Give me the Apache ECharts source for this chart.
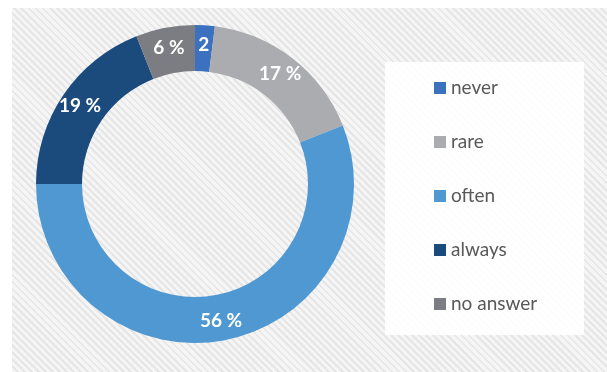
<!DOCTYPE html>
<html>
<head>
<meta charset="utf-8">
<script src="https://cdn.jsdelivr.net/npm/echarts@6/dist/echarts.min.js"></script>
<style>
  html, body { margin: 0; padding: 0; background: #fff; }
  .bg {
    position: absolute; left: 12px; top: 8px; width: 595px; height: 364px;
    background: repeating-linear-gradient(45deg, #f5f5f5 0px, #f5f5f5 3px, #e6e6e6 3px, #e6e6e6 5px);
  }
  #chart { position: absolute; left: 0; top: 0; width: 607px; height: 372px; }
</style>
</head>
<body>
<div class="bg"></div>
<div id="chart"></div>
<script>
  // answer categories and shares (%)
  const categories = ['never', 'rare', 'often', 'always', 'no answer'];
  const shares = [2, 17, 56, 19, 6];
  const labels = ['2', '17 %', '56 %', '19 %', '6 %'];
  const colors = ['#3c71c0', '#abacb0', '#4f98d2', '#1b4b7d', '#7c7d82'];

  const chart = echarts.init(document.getElementById('chart'));

  const option = {
    backgroundColor: 'transparent',
    animation: false,
    graphic: [{
      type: 'rect',
      shape: { x: 385, y: 62, width: 199, height: 273 },
      style: { fill: 'rgba(255,255,255,0.92)' },
      z: 0
    }],
    legend: {
      orient: 'vertical',
      left: 429,
      top: 73,
      itemWidth: 12,
      itemHeight: 12,
      itemGap: 34,
      icon: 'rect',
      textStyle: { color: '#595959', fontSize: 19, fontFamily: 'Lato', lineHeight: 20 },
      data: categories
    },
    series: [{
      type: 'pie',
      center: [195, 184],
      radius: [113, 159],
      startAngle: 90,
      clockwise: true,
      itemStyle: { borderWidth: 0 },
      label: {
        show: true,
        position: 'inside',
        color: '#fff',
        fontWeight: 'bold',
        fontSize: 19,
        fontFamily: 'Lato',
        formatter: p => labels[p.dataIndex]
      },
      labelLine: { show: false },
      data: categories.map((c, i) => ({
        name: c,
        value: shares[i],
        itemStyle: { color: colors[i] }
      }))
    }]
  };
  chart.setOption(option);
</script>
</body>
</html>
